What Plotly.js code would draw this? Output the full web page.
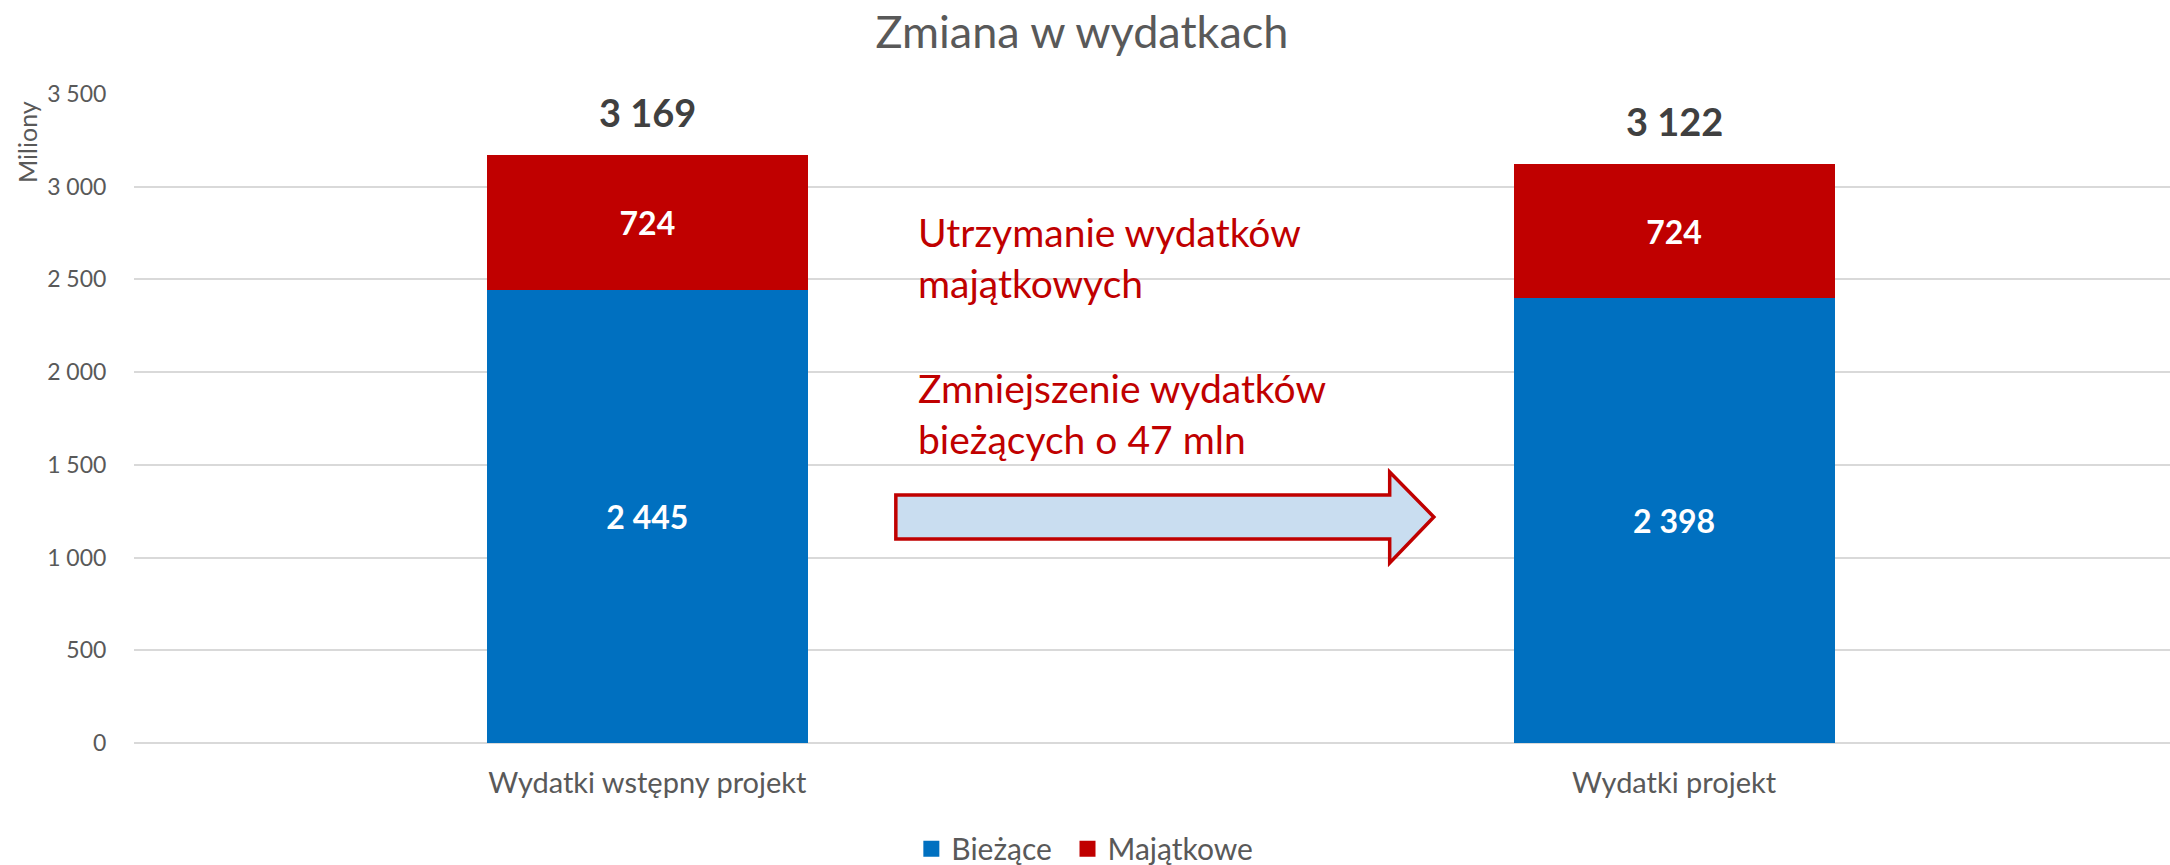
<!DOCTYPE html>
<html>
<head>
<meta charset="utf-8">
<script src="https://cdn.plot.ly/plotly-3.0.1.min.js"></script>
<style>
  html, body { margin: 0; padding: 0; background: #ffffff; }
  #chart { width: 2170px; height: 865px; }
</style>
</head>
<body>
<div id="chart"></div>
<script>
// ---- data ----
const categories = ["Wydatki wstępny projekt", "Wydatki projekt"];
const biezace = [2445, 2398];
const majatkowe = [724, 724];
const seriesNames = ["Bieżące", "Majątkowe"];
const seriesColors = ["#0070C0", "#C00000"];
const yTicks = [0, 500, 1000, 1500, 2000, 2500, 3000, 3500];
const titleText = "Zmiana w wydatkach";
const unitLabel = "Miliony";
const note1 = "Utrzymanie wydatków<br>majątkowych";
const note2 = "Zmniejszenie wydatków<br>bieżących o 47 mln";

const FONT = "Lato, 'Open Sans', sans-serif";
const fmt = v => String(v).replace(/\B(?=(\d{3})+(?!\d))/g, " ");
const totals = categories.map((c, i) => biezace[i] + majatkowe[i]);
const xIdx = categories.map((c, i) => i);

function barTrace(name, vals, color) {
  return {
    type: "bar", name: name, x: xIdx, y: vals,
    width: 0.3127,
    marker: { color: color },
    text: vals.map(fmt), textposition: "inside", insidetextanchor: "middle",
    textfont: { family: FONT, size: 32, color: "#ffffff", weight: 700 },
    hoverinfo: "skip", cliponaxis: false, showlegend: false
  };
}
// legend-only entries with larger square swatches
function legendTrace(name, color, legendId) {
  return {
    type: "scatter", mode: "markers", name: name, x: [null], y: [null],
    marker: { symbol: "square", size: 18, color: color },
    hoverinfo: "skip", showlegend: true, legend: legendId
  };
}

const traces = [
  barTrace(seriesNames[0], biezace, seriesColors[0]),
  barTrace(seriesNames[1], majatkowe, seriesColors[1]),
  legendTrace(seriesNames[0], seriesColors[0], "legend"),
  legendTrace(seriesNames[1], seriesColors[1], "legend2")
];

const annotations = totals.map((t, i) => ({
  x: i, y: t, xref: "x", yref: "y", text: fmt(t), showarrow: false,
  yanchor: "bottom", yshift: 18,
  font: { family: FONT, size: 38, color: "#404040", weight: 700 }
}));
annotations.push({
  xref: "paper", yref: "paper", x: -0.0526, y: 0.926, text: unitLabel,
  textangle: -90, showarrow: false, xanchor: "center", yanchor: "middle",
  font: { family: FONT, size: 25, color: "#595959" }
});
annotations.push({
  xref: "x", yref: "y", x: 0.262, y: 2890, text: note1, showarrow: false,
  xanchor: "left", yanchor: "top", align: "left",
  font: { family: FONT, size: 39, color: "#C00000" }
});
annotations.push({
  xref: "x", yref: "y", x: 0.262, y: 2050, text: note2, showarrow: false,
  xanchor: "left", yanchor: "top", align: "left",
  font: { family: FONT, size: 39, color: "#C00000" }
});

// arrow shape (decoration)
const ax = [0.242, 0.723, 0.766];
const ay = { bt: 1337, bb: 1100, ht: 1461, hb: 971, tip: 1219 };
const arrowPath = `M ${ax[0]},${ay.bt} L ${ax[1]},${ay.bt} L ${ax[1]},${ay.ht} L ${ax[2]},${ay.tip} L ${ax[1]},${ay.hb} L ${ax[1]},${ay.bb} L ${ax[0]},${ay.bb} Z`;

const legendBase = {
  orientation: "h", xref: "paper", yref: "paper", xanchor: "left",
  y: -0.163, yanchor: "middle",
  font: { family: FONT, size: 30, color: "#595959" },
  itemwidth: 30, bgcolor: "rgba(0,0,0,0)"
};

const layout = {
  width: 2170, height: 865,
  paper_bgcolor: "#ffffff", plot_bgcolor: "#ffffff",
  margin: { l: 134, r: 0, t: 94, b: 122, autoexpand: false },
  barmode: "stack",
  separators: ", ",
  title: {
    text: titleText, xref: "container", x: 0.4986, xanchor: "center",
    yref: "container", y: 0.963, yanchor: "middle",
    font: { family: FONT, size: 45, color: "#595959" }
  },
  xaxis: {
    tickmode: "array", tickvals: xIdx, ticktext: categories,
    range: [-0.5, 1.483], showgrid: false, zeroline: false, showline: false,
    ticks: "outside", ticklen: 14, tickcolor: "rgba(0,0,0,0)",
    tickfont: { family: FONT, size: 29, color: "#595959" }
  },
  yaxis: {
    range: [0, 3500], tickmode: "array", tickvals: yTicks,
    ticktext: yTicks.map(fmt),
    showgrid: true, gridcolor: "#D9D9D9", gridwidth: 2,
    zeroline: true, zerolinecolor: "#D9D9D9", zerolinewidth: 2,
    showline: false,
    ticks: "outside", ticklen: 22, tickcolor: "rgba(0,0,0,0)",
    tickfont: { family: FONT, size: 23, color: "#595959" }
  },
  showlegend: true,
  legend: Object.assign({}, legendBase, { x: 0.3818 }),
  legend2: Object.assign({}, legendBase, { x: 0.4585 }),
  annotations: annotations,
  shapes: [{
    type: "path", xref: "x", yref: "y", path: arrowPath,
    fillcolor: "#C9DDF0", line: { color: "#C00000", width: 3.5 }, layer: "above"
  }]
};

Plotly.newPlot("chart", traces, layout, { displayModeBar: false, staticPlot: true });
</script>
</body>
</html>
